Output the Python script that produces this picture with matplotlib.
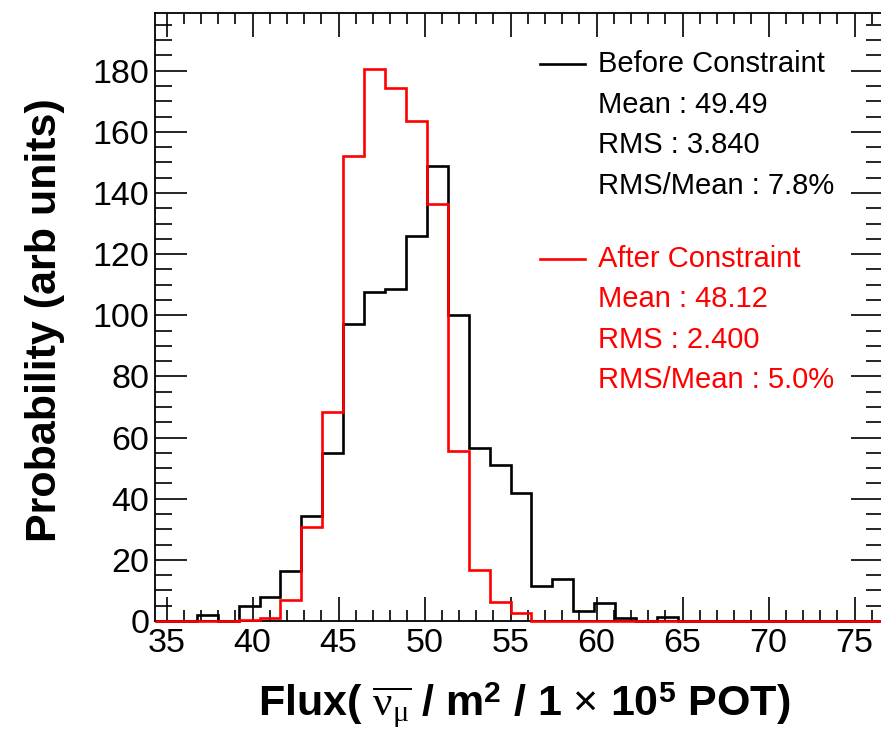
import numpy as np
import matplotlib
matplotlib.use('Agg')
import matplotlib.pyplot as plt
from matplotlib.ticker import MultipleLocator

# ---- data ----
bin_start = 34.32
bin_width = 1.216
n_bins = 35
before = [0, 0, 2, 0, 5, 8, 16.5, 34.4, 55, 97, 107.6, 108.7, 125.8, 148.9,
          100.1, 56.7, 51, 41.8, 11.6, 13.7, 3.4, 5.8, 0.9, 0, 1.4,
          0, 0, 0, 0, 0, 0, 0, 0, 0, 0]
after = [0, 0, 0, 0, 0.4, 1, 6.9, 30.7, 68.5, 152.2, 180.5, 174.5, 163.7, 136.5,
         55.7, 16.7, 6.1, 2.5, 0, 0, 0, 0, 0, 0, 0,
         0, 0, 0, 0, 0, 0, 0, 0, 0, 0]
before_lines = ["Before Constraint", "Mean : 49.49", "RMS : 3.840", "RMS/Mean : 7.8%"]
after_lines = ["After Constraint", "Mean : 48.12", "RMS : 2.400", "RMS/Mean : 5.0%"]
xlim = (34.32, 76.65)
ylim = (0, 198.8)

edges = bin_start + bin_width * np.arange(n_bins + 1)

plt.rcParams['font.family'] = ['Liberation Sans', 'DejaVu Sans']
plt.rcParams['mathtext.fontset'] = 'custom'
plt.rcParams['mathtext.rm'] = 'Liberation Sans:bold'
plt.rcParams['mathtext.it'] = 'Liberation Serif'
plt.rcParams['mathtext.bf'] = 'Liberation Sans:bold'
plt.rcParams['mathtext.sf'] = 'Liberation Sans'

W, H = 881, 734
fig = plt.figure(figsize=(W / 100, H / 100), dpi=100)
ax = fig.add_axes([155 / W, 1 - 621 / H, 728 / W, (621 - 13.3) / H])

ax.stairs(before, edges, color='black', lw=1.9, clip_on=False, zorder=3)
ax.stairs(after, edges, color='#ff0000', lw=1.9, clip_on=False, zorder=4)

ax.set_xlim(*xlim)
ax.set_ylim(*ylim)
ax.xaxis.set_major_locator(MultipleLocator(5))
ax.xaxis.set_minor_locator(MultipleLocator(1))
ax.yaxis.set_major_locator(MultipleLocator(20))
ax.yaxis.set_minor_locator(MultipleLocator(5))
ax.tick_params(axis='both', which='both', direction='in', top=True, right=True,
               width=1.2, colors='black', labelsize=24.5)
ax.tick_params(axis='x', which='major', length=17, pad=5)
ax.tick_params(axis='x', which='minor', length=8)
ax.tick_params(axis='y', which='major', length=23, pad=4)
ax.tick_params(axis='y', which='minor', length=12)
for s in ax.spines.values():
    s.set_linewidth(1.3)

# legend-like text
def fx(px):
    return px / W

def fy(py):
    return 1 - py / H

ys_b = [64, 105, 145, 186]
ys_a = [259, 299, 340, 380]
for t, yy in zip(before_lines, ys_b):
    fig.text(fx(598), fy(yy), t, fontsize=21, color='black', va='center', ha='left')
for t, yy in zip(after_lines, ys_a):
    fig.text(fx(598), fy(yy), t, fontsize=21, color='#ff0000', va='center', ha='left')
fig.add_artist(plt.Line2D([fx(540), fx(585)], [fy(64), fy(64)], color='black', lw=1.9))
fig.add_artist(plt.Line2D([fx(540), fx(585)], [fy(259), fy(259)], color='#ff0000', lw=1.9))

fig.text(fx(45), fy(320), "Probability (arb units)", rotation=90, fontsize=31,
         fontweight='bold', ha='center', va='center')
fig.text(fx(524), fy(705),
         r"Flux( $\overline{\nu_{\mu}}$ / m$^{2}$ / 1 $\mathsf{\times}$ 10$^{5}$ POT)",
         fontsize=31, fontweight='bold', ha='center', va='center')

fig.savefig('out.png', dpi=100)
